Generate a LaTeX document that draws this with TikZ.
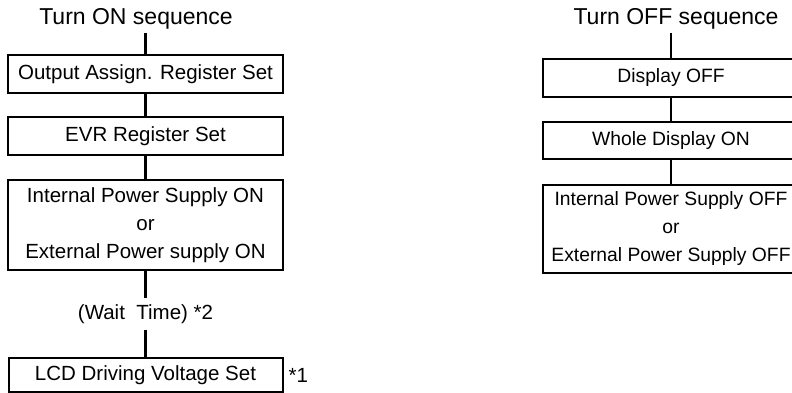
\documentclass[tikz,border=0pt]{standalone}
\usepackage{fontspec}
\setmainfont{Liberation Sans}
\usetikzlibrary{positioning}
\tikzset{
  heading/.style={
    font=\fontsize{23}{24}\selectfont, anchor=base, inner sep=3pt
  },
  stepbox/.style={
    rectangle, draw, line width=2pt, fill=white,
    text centered, minimum width=275pt, minimum height=38pt,
    outer sep=0pt, font=\fontsize{20.5}{24}\selectfont
  },
  offbox/.style={
    stepbox, minimum width=256pt, font=\fontsize{19.3}{24}\selectfont
  },
  tallbox/.style={
    align=center, minimum height=90pt,
    font=\fontsize{20.5}{28}\selectfont
  },
  tallofftext/.style={
    align=center, minimum height=88pt,
    font=\fontsize{19.3}{28}\selectfont
  },
  waitnode/.style={
    minimum height=32pt, inner sep=0pt, outer sep=0pt,
    font=\fontsize{20.5}{24}\selectfont
  },
  note/.style={font=\fontsize{20.5}{24}\selectfont, inner sep=0pt},
  link/.style={line width=2.5pt},
}

\begin{document}
\begin{tikzpicture}[x=1pt, y=1pt, node distance=24pt]
  \useasboundingbox (0,0) rectangle (792,-393);

  % ── turn on ───────────────────────────────────────────────────────────────
  \node[heading] (ontitle) at (136,-25) {Turn ON sequence};
  \node[stepbox] (outassign) at (145.5,-74) {Output Assign. Register Set};
  \node[stepbox, below=of outassign]    (evrset)    {EVR Register Set};
  \node[stepbox, tallbox, below=25pt of evrset] (pwron)
    {Internal Power Supply ON\\or\\External Power supply ON};
  \node[waitnode, below=28pt of pwron]  (wait)      {(Wait\ \ Time) *2};
  \node[stepbox, minimum height=34pt, minimum width=274pt, below=28pt of wait] (lcdset)
    {LCD Driving Voltage Set};
  \node[note, right=6pt of lcdset]      (noteone)   {*1};

  % ── turn off ──────────────────────────────────────────────────────────────
  \node[heading] (offtitle) at (676,-25) {Turn OFF sequence};
  \node[offbox] (dispoff) at (671,-78) {Display OFF};
  \node[offbox, minimum height=37pt, below=25pt of dispoff] (wholeon) {Whole Display ON};
  \node[offbox, tallofftext, below=26pt of wholeon] (pwroff)
    {Internal Power Supply OFF\\or\\External Power Supply OFF};

  % ── edges ─────────────────────────────────────────────────────────────────
  \draw[link] (outassign.north |- ontitle.south) -- (outassign);
  \draw[link] (outassign) -- (evrset);
  \draw[link] (evrset)    -- (pwron);
  \draw[link] (pwron)     -- (wait);
  \draw[link] (wait)      -- (lcdset);

  \draw[link] (dispoff.north |- offtitle.south) -- (dispoff);
  \draw[link] (dispoff)   -- (wholeon);
  \draw[link] (wholeon)   -- (pwroff);

\end{tikzpicture}
\end{document}
